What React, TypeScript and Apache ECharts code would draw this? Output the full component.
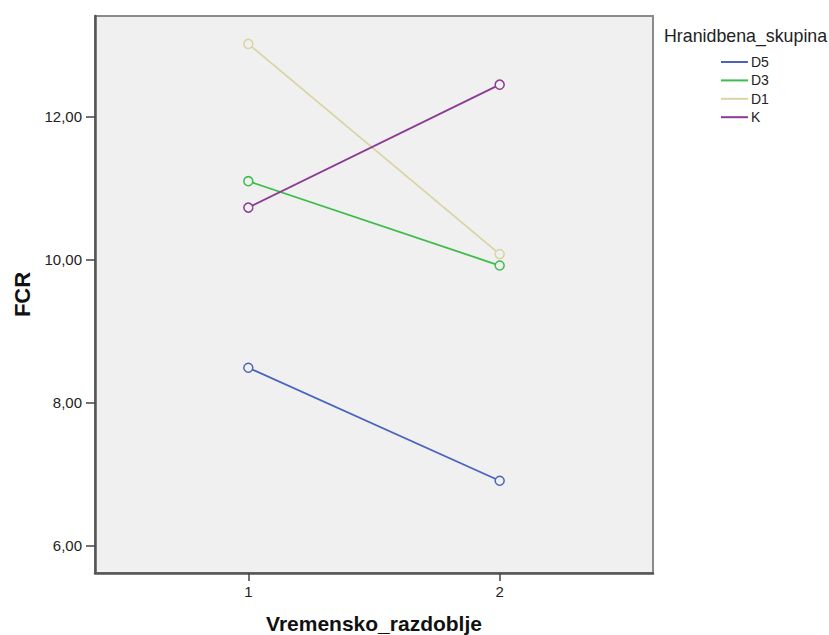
import React, { useEffect, useRef } from "react";
import * as echarts from "echarts";

const seriesNames = ["D5", "D3", "D1", "K"];
const periods = [1, 2];
const d5 = [8.49, 6.91];
const d3 = [11.1, 9.92];
const d1 = [13.02, 10.08];
const k = [10.73, 12.45];
const seriesValues = [d5, d3, d1, k];
const colors = ["#4a63bd", "#3dbd4a", "#d9d4a2", "#8b3b92"];
const yTicks = [6, 8, 10, 12];
const xTicks = [1, 2];

export default function App() {
  const ref = useRef<HTMLDivElement>(null);
  useEffect(() => {
    if (!ref.current) return;
    const chart = echarts.init(ref.current, null, { renderer: "svg" });
    const font = "'Liberation Sans', Arial, sans-serif";
    chart.setOption({
      animation: false,
      textStyle: { fontFamily: font },
      title: {
        text: "Hranidbena_skupina",
        left: 664,
        top: 27,
        padding: 0,
        textStyle: { fontSize: 17.8, fontWeight: "normal", color: "#222", fontFamily: font },
      },
      legend: {
        orient: "vertical",
        left: 721,
        top: 55,
        padding: 0,
        itemWidth: 27,
        itemHeight: 2,
        itemGap: 4.4,
        textStyle: { fontSize: 14, lineHeight: 14, color: "#222", padding: [0, 0, 0, -2] },
        data: seriesNames.map((n, i) => ({
          name: n,
          icon: "rect",
          itemStyle: { color: colors[i], borderWidth: 0 },
        })),
      },
      grid: {
        left: 95,
        top: 16,
        width: 558,
        height: 557,
        outerBoundsMode: "none",
        containLabel: false,
        show: true,
        backgroundColor: "#f0f0f0",
        borderColor: "#8a8a8a",
        borderWidth: 2,
      },
      xAxis: {
        type: "value",
        min: 0.39,
        max: 2.61,
        name: "Vremensko_razdoblje",
        nameLocation: "middle",
        nameGap: 40,
        nameTextStyle: { fontSize: 21, fontWeight: "bold", color: "#111" },
        axisLine: { show: true, lineStyle: { color: "#555", width: 2.5 } },
        axisTick: { show: true, length: 8, lineStyle: { color: "#444", width: 1.5 }, customValues: xTicks },
        axisLabel: { fontSize: 15, color: "#222", margin: 11, customValues: xTicks, formatter: (v: number) => String(v) },
        splitLine: { show: false },
      },
      yAxis: {
        type: "value",
        min: 5.62,
        max: 13.41,
        name: "FCR",
        nameLocation: "middle",
        nameGap: 62,
        nameTextStyle: { fontSize: 22, fontWeight: "bold", color: "#111" },
        axisLine: { show: true, lineStyle: { color: "#555", width: 2.5 } },
        axisTick: { show: true, length: 9, lineStyle: { color: "#444", width: 1.5 }, customValues: yTicks },
        axisLabel: {
          fontSize: 15,
          color: "#222",
          margin: 13,
          customValues: yTicks,
          formatter: (v: number) => v.toFixed(2).replace(".", ","),
        },
        splitLine: { show: false },
      },
      series: seriesNames.map((n, i) => ({
        name: n,
        type: "line",
        data: periods.map((p, j) => [p, seriesValues[i][j]]),
        symbol: "circle",
        symbolSize: 9,
        itemStyle: { color: "#f0f0f0", borderColor: colors[i], borderWidth: 1.5 },
        lineStyle: { color: colors[i], width: 1.8 },
        emphasis: { disabled: true },
      })),
    });
    return () => chart.dispose();
  }, []);
  return (
    <div
      ref={ref}
      style={{ position: "fixed", left: 0, top: 0, width: 829, height: 635, background: "#fff" }}
    />
  );
}
